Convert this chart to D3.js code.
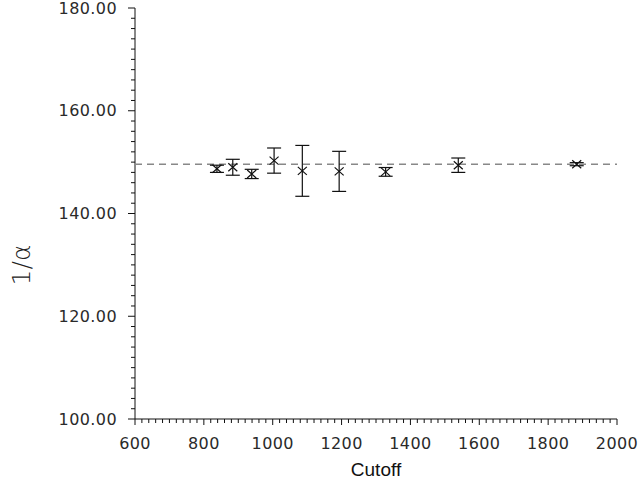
<!DOCTYPE html>
<html><head><meta charset="utf-8">
<script src="https://cdn.jsdelivr.net/npm/d3@7"></script>
<style>body{margin:0;background:#fff;} svg{display:block;}</style>
</head><body>
<svg id="c" width="639" height="482"></svg>
<script>
const cutoff = [838, 884, 939, 1004, 1086, 1193, 1328, 1539, 1883];
const invAlpha = [148.7, 149.0, 147.7, 150.3, 148.3, 148.2, 148.1, 149.4, 149.6];
const errors = [0.7, 1.55, 0.9, 2.45, 4.95, 3.9, 0.85, 1.4, 0.3];
const referenceLine = [149.6];
const xTicks = [600, 800, 1000, 1200, 1400, 1600, 1800, 2000];
const yTicks = [100, 120, 140, 160, 180];

const svg = d3.select("#c");
const x = d3.scaleLinear().domain([600, 2000]).range([135, 617]);
const y = d3.scaleLinear().domain([100, 180]).range([419, 8]);
const ink = "#111";

// x axis
const gx = svg.append("g").attr("transform", "translate(0,419)");
gx.append("line").attr("x1", x(600)).attr("x2", x(2000)).attr("stroke", ink).attr("stroke-width", 1);
gx.selectAll(".mn").data(d3.range(600, 2001, 20)).join("line")
  .attr("x1", d => x(d)).attr("x2", d => x(d)).attr("y1", 0)
  .attr("y2", d => d % 200 === 0 ? 6 : 4).attr("stroke", ink).attr("stroke-width", 1);
gx.selectAll("text").data(xTicks).join("text")
  .attr("x", d => x(d)).attr("y", 30).attr("text-anchor", "middle")
  .attr("font-family", "DejaVu Sans").attr("font-size", 16).attr("letter-spacing", 0.4).attr("fill", "#2a2a2a")
  .text(d => d);

// y axis
const gy = svg.append("g").attr("transform", "translate(135,0)");
gy.append("line").attr("y1", y(100)).attr("y2", y(180)).attr("stroke", ink).attr("stroke-width", 1);
gy.selectAll(".mn").data(d3.range(100, 180.1, 2)).join("line")
  .attr("y1", d => y(d)).attr("y2", d => y(d)).attr("x1", 0)
  .attr("x2", d => d % 20 === 0 ? -7 : -4).attr("stroke", ink).attr("stroke-width", 1);
gy.selectAll("text").data(yTicks).join("text")
  .attr("x", -18).attr("y", d => y(d)).attr("dy", "0.35em").attr("text-anchor", "end")
  .attr("font-family", "DejaVu Sans").attr("font-size", 16).attr("letter-spacing", 0.4).attr("fill", "#2a2a2a")
  .text(d => d.toFixed(2));

// labels
svg.append("text").attr("x", 376).attr("y", 476).attr("text-anchor", "middle")
  .attr("font-family", "Liberation Sans").attr("font-size", 19).attr("fill", "#111").text("Cutoff");
svg.append("text").attr("transform", "translate(30,265) rotate(-90)").attr("text-anchor", "middle")
  .attr("font-family", "DejaVu Sans").attr("font-size", 25).attr("font-weight", 200).attr("fill", "#222").text("1/α");

// reference dashed line
svg.selectAll(".ref").data(referenceLine).join("line")
  .attr("x1", x(600)).attr("x2", x(2000)).attr("y1", d => y(d)).attr("y2", d => y(d))
  .attr("stroke", "#888").attr("stroke-width", 1.6).attr("stroke-dasharray", "7,5");

// error bars and markers
const pts = cutoff.map((c, i) => ({c, v: invAlpha[i], e: errors[i]}));
const g = svg.append("g").attr("stroke", ink).attr("stroke-width", 1.2).attr("fill", "none");
const eb = g.selectAll("g").data(pts).join("g");
eb.append("line").attr("x1", d => x(d.c)).attr("x2", d => x(d.c))
  .attr("y1", d => y(d.v + d.e)).attr("y2", d => y(d.v - d.e));
eb.append("line").attr("x1", d => x(d.c) - 7).attr("x2", d => x(d.c) + 7)
  .attr("y1", d => y(d.v + d.e)).attr("y2", d => y(d.v + d.e));
eb.append("line").attr("x1", d => x(d.c) - 7).attr("x2", d => x(d.c) + 7)
  .attr("y1", d => y(d.v - d.e)).attr("y2", d => y(d.v - d.e));
eb.append("path").attr("d", d => {
  const cx = x(d.c), cy = y(d.v), s = 4.5, t = 4;
  return `M${cx-s},${cy-t}L${cx+s},${cy+t}M${cx-s},${cy+t}L${cx+s},${cy-t}`;
});
</script>
</body></html>
